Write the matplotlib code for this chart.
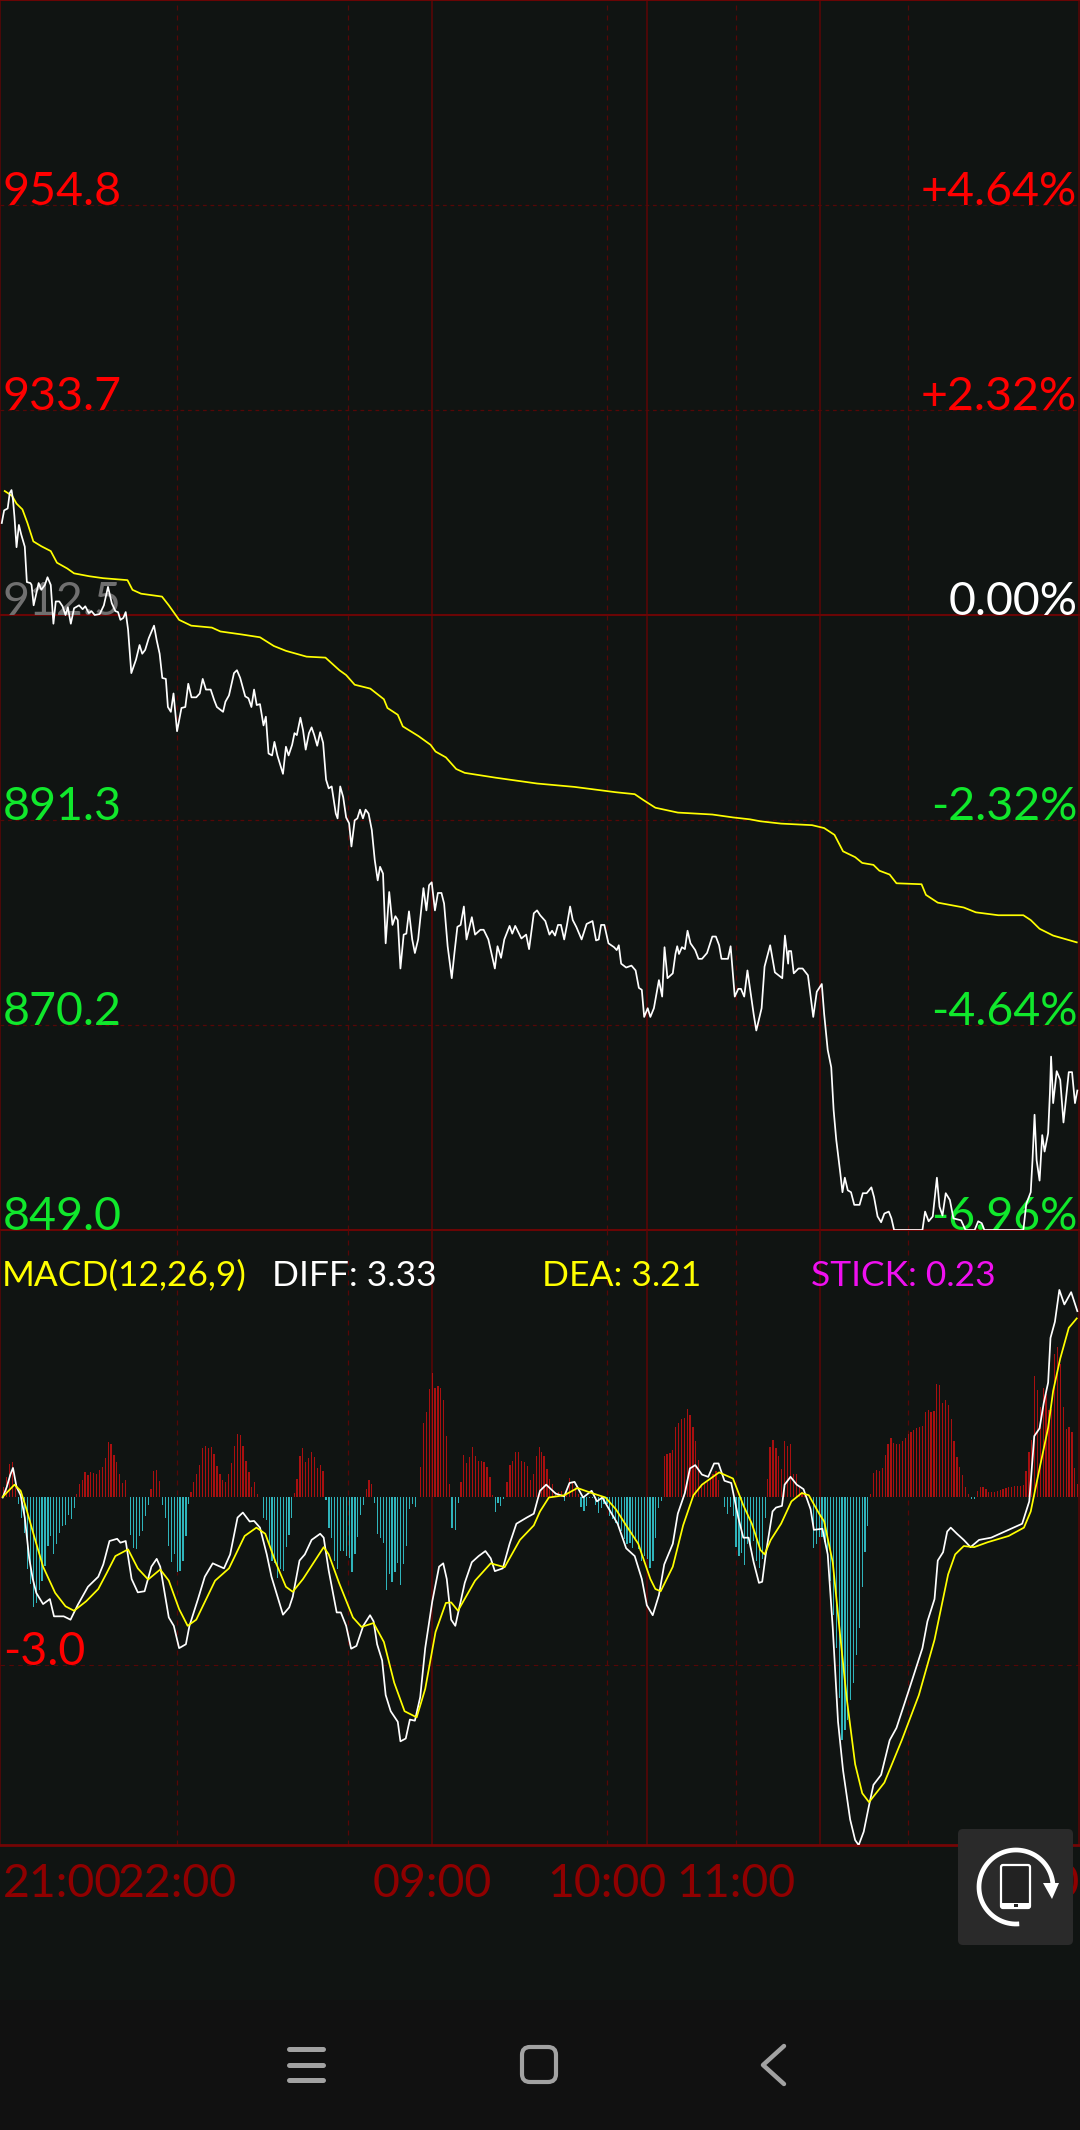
import numpy as np
import matplotlib
matplotlib.use("Agg")
import matplotlib.pyplot as plt
from matplotlib.patches import Rectangle, FancyBboxPatch, Arc, Polygon

plt.rcParams['font.family'] = ['Lato', 'DejaVu Sans']

# ---------- price panel ----------
price_t = [0.6,1.4,2.6,3.3,3.9,4.4,4.9,5.6,6.4,7.2,8.4,9.1,10.3,10.7,11.4,12.3,13.1,14,15.2,16.1,17.2,18.1,18.9,20.1,21.2,22.2,23,24,25.1,26.8,28,28.9,30.1,31,32.1,33.8,35.2,36.6,37.9,39.1,40,40.8,41.8,42.6,43.4,44.5,46.1,47.3,48.2,49.2,50.4,52.2,53.1,54.1,55,56.2,56.9,57.9,58.8,60,61.5,62.8,63.8,64.9,66.5,67.7,68.7,69.8,71.4,72.6,73.5,75.6,76.4,77.6,79.3,80.3,81.4,83.1,84.2,85.2,86.1,87,88.1,89.3,90.1,91,92.2,93,94,95.9,96.9,97.8,99,99.8,100.6,101.8,102.7,103.6,104.7,105.6,106.5,107.5,108.5,109.5,110.5,111.4,112.4,113.8,114.4,115.3,116.3,117.3,118.3,119.1,120.2,121.1,122,123,123.9,124.9,126,127,128,128.8,129.8,130.7,131.9,133,134,134.8,135.7,136.8,137.7,138.6,139.7,140.6,141.7,143.5,144.5,145.4,146.3,147.4,148.4,149.6,150.5,151.7,153.1,154,155,156.1,157.2,158.1,159.9,161,162.8,163.9,165.5,167.7,168.6,169.8,170.9,172.7,173.6,174.6,176.7,178.3,179.3,180.9,182,
183.05,184.8,186.2,187.1,188.1,189.1,190.1,191.2,192.2,193.2,194.1,195.3,197.1,198.8,200.8,202,202.9,203.7,204.8,206.2,208.1,209,209.7,210.5,212.2,214,215.4,216.5,217.5,218.3,219.5,220.4,221.6,223.3,224.4,225.2,226.2,228,228.9,229.5,230.1,231.1,232.1,233,234,235.6,236.7,237.9,239.6,241.4,242.6,243.7,244.5,246.7,247.6,249,250.2,251.1,252.2,253.3,254.5,255.4,256.3,258.1,259.1,261,262.6,265.1,266,267.1,267.3,268.1,269,270.6,272,273.8,275.6,276.8,278.5,279.3,280.5,281.7,282.5,283.4,284.8,285.5,286.3,287.3,288.4,289.5,291.3,292.4,293.7,295.3,296.2,297.4,298.6,299.7,301.2,302.1,303,312.6,313.5,314.7,316.1,317.5,318.4,319.4,320.5,321.9,323.1,325.7,327.2,330.3,331.5,332.7,333.6,346.8,347.8,349.3,349.9,350.6,351.3,352.3,353.2,354,355.2,355.8,356.2,356.9,358.1,359.3,360.4,362.2,363.3,364.3,365.1]
price_v = [922.0,923.3,923.5,925.1,925.4,924.4,922.65,919.5,921.8,920.8,919.55,915.9,915.8,915.6,913.5,914.7,915.8,915.1,915.6,916.4,915.6,911.6,913.9,913.9,913.4,912.5,913.3,911.6,913.2,913.5,913.1,913.4,912.7,912.9,912.5,912.6,913.5,915.4,913.7,912.9,912.8,912.0,912.2,912.8,911.0,906.5,907.9,909.4,908.5,908.9,910.1,911.4,909.9,908.5,906.0,905.9,903.0,902.5,904.4,900.5,902.9,903.0,905.4,904.0,904.0,904.4,905.9,904.8,904.8,903.7,903.0,902.5,903.55,904.2,906.5,906.8,906.0,904.1,903.9,903.0,904.8,903.2,903.3,901.1,902.0,898.2,898.0,899.4,898.0,896.1,898.9,898.0,899.1,900.3,900.1,901.9,900.6,898.6,900.3,900.9,900.1,899.0,900.4,899.3,895.5,894.6,894.8,892.0,891.5,894.8,893.7,891.6,891.0,888.6,891.3,891.5,892.4,891.5,892.4,892.0,890.3,887.2,885.1,886.5,885.8,878.6,883.9,880.5,881.4,881.0,876.0,879.5,879.6,881.9,879.0,877.6,879.0,884.3,882.0,884.6,884.9,882.0,883.8,883.8,882.7,878.3,875.0,877.6,880.3,880.5,882.4,879.0,881.3,879.5,880.0,880.0,879.0,876.0,878.3,877.1,879.0,880.4,879.6,880.4,879.1,879.5,878.0,881.7,882.0,
881.5,880.9,879.5,879.9,879.4,880.5,880.5,879.0,880.6,882.4,881.0,880.3,879.0,880.6,880.9,878.9,879.0,880.5,880.5,878.6,878.2,877.9,878.4,876.5,876.1,876.3,875.8,874.0,873.8,871.0,871.9,871.0,871.9,874.8,873.1,878.2,875.0,875.5,877.5,878.3,877.5,878.2,878.0,879.9,878.6,877.9,877.0,877.0,877.6,879.3,879.3,878.4,877.0,877.0,878.3,873.1,873.9,873.9,873.1,875.8,873.2,871.3,869.6,871.9,876.2,878.4,875.6,875.0,879.4,876.5,877.8,877.8,875.5,876.0,876.0,875.3,871.0,873.6,874.4,871.3,867.6,865.8,861.4,858.3,854.8,852.9,854.4,853.1,852.9,851.6,851.6,852.8,852.8,853.4,852.4,850.4,849.8,850.7,850.9,850.2,849.0,849.0,850.9,849.9,850.4,854.4,851.4,850.5,852.8,852.1,850.2,850.0,849.0,849.0,849.9,849.7,849.0,849.0,851.7,852.9,856.2,860.9,856.2,854.1,858.8,857.1,859.0,863.1,866.9,862.1,865.4,864.5,860.1,865.3,865.3,862.1,863.4]

avg_t = [1.6,4.1,5.6,7.6,9.3,11.3,14,17.2,19.3,22.8,25.1,30.3,35,43.2,44.9,47.8,54.9,57.2,60.7,64.8,71.8,74.7,81.7,88.1,92.8,96.9,103.9,110.3,115,117.3,120.2,125.5,130.1,131.3,134.8,136.5,141.8,145.9,147.6,151.1,154.6,157.5,168,175,182,
194.7,208.7,215.1,218,222.1,229.7,241.4,248.4,254.2,257.7,264.7,275.2,279.3,282.8,285.7,289.8,292.2,296,298,301.5,303.8,312.3,313.8,317.8,326.6,330.7,338.3,346.8,349.3,352.3,356.9,364.9]
avg_v = [925.3,924.8,924,923.4,922,920.1,919.6,919.1,917.9,917.3,916.8,916.5,916.3,916.1,915.1,914.7,914.4,913.5,912,911.4,911.2,910.8,910.5,910.2,909.3,908.8,908.2,908.1,906.8,906.3,905.3,904.9,903.8,902.9,902.2,901,900,899.1,898.4,897.8,896.6,896.2,895.7,895.4,895.1,
894.75,894.2,894,893.4,892.6,892.1,891.9,891.6,891.4,891.2,890.96,890.8,890.5,889.8,888.1,887.5,886.9,886.7,886.1,885.7,884.8,884.7,883.6,882.8,882.3,881.8,881.5,881.5,881,880.1,879.4,878.7]

price_levels = [976.0, 954.8, 933.7, 912.5, 891.3, 870.2, 849.0]
price_labels = ['976.0', '954.8', '933.7', '912.5', '891.3', '870.2', '849.0']
pct_labels = ['+6.96%', '+4.64%', '+2.32%', '0.00%', '-2.32%', '-4.64%', '-6.96%']
label_colors = ['#ff0000', '#ff0000', '#ff0000', '#707070', '#10e82c', '#10e82c', '#10e82c']
pct_colors = ['#ff0000', '#ff0000', '#ff0000', '#ffffff', '#10e82c', '#10e82c', '#10e82c']
solid_levels = [976.0, 912.5, 849.0]

# ---------- MACD panel ----------
diff_t = [0.9,2.3,3.5,4.4,5.6,7,8.4,9.9,11.1,12.3,14.6,16.9,18.3,21.6,23.9,26.3,29.8,33.3,35,37.1,39.7,40.8,42.6,44.6,46.7,49,51.3,53.1,54.3,57.2,58.9,60.7,63,64.2,67.1,69.4,72.1,75.9,78,80.5,82.3,84.6,86.1,88.1,90.4,92,93.9,95.9,98,99.2,101.5,103.3,105.6,108.5,109.7,111.4,114.1,115.5,117.3,119,120.8,123.1,125.4,126.6,127.8,129.5,130.7,132.4,134.8,135.7,137.5,138.9,140.6,142.4,144.1,146.5,148.8,150.2,151.4,152.9,154.3,157.5,159.9,162.2,164.5,166.3,167.7,170.4,172.7,175,178.5,180.9,183,
185.1,188.3,191.2,193,194.7,197.6,200.5,202.3,204.1,206.4,209.3,212.2,215.1,217.5,219.2,221.2,223.3,225.1,228,229.7,232.1,233.8,235.6,237.9,240,242,243.5,245.5,247.8,250.2,251.9,253.7,255.4,257.2,258.3,259.5,261.8,263,265,265.9,267.9,270,272.3,274.7,275.8,278.7,280.5,282.2,284,285.7,288.1,289.8,291,292.7,294.5,296,298.6,301.5,303.8,307.9,312.6,314.3,316.7,317.8,319.6,321,322.2,324.3,326.6,328.9,331.8,335.9,341.8,346.4,348.8,350.5,352.3,353.7,355.2,356,357.5,359,360.7,363,365.1]
diff_v = [0,.19,.41,.53,.19,.04,-.36,-1.09,-1.46,-1.71,-1.91,-1.82,-2.13,-2.13,-2.19,-1.93,-1.6,-1.42,-1.2,-.78,-.74,-.81,-.78,-1.46,-1.7,-1.68,-1.24,-1.1,-1.24,-2.15,-2.3,-2.7,-2.63,-2.3,-1.82,-1.42,-1.18,-1.27,-1.02,-.36,-.27,-.43,-.42,-.54,-1.02,-1.42,-1.75,-2.1,-1.97,-1.78,-1.13,-1.02,-.76,-.65,-.72,-1.31,-2.06,-2.06,-2.3,-2.71,-2.66,-2.3,-2.11,-2.22,-2.63,-2.92,-3.54,-3.83,-4.02,-4.37,-4.32,-3.98,-4,-3.58,-2.7,-1.86,-1.24,-1.18,-1.46,-2.19,-2.3,-1.53,-1.16,-1.05,-.96,-1.09,-1.32,-1.27,-.83,-.47,-.36,-.29,.12,
.23,.07,.02,.26,.28,0,.12,-.07,0,-.21,-.47,-.91,-1.05,-1.46,-1.93,-2.11,-1.75,-1.2,-.83,-.29,.08,.52,.58,.41,.37,.61,.61,.3,.26,-.36,-.72,-.72,-1.16,-1.53,-1.51,-1.02,-.25,-.18,-.15,.23,.37,.23,.15,-.21,-.58,-.56,-1.02,-2.33,-4.02,-4.89,-5.77,-6.14,-6.23,-5.99,-5.52,-5.15,-4.97,-4.35,-4.13,-3.47,-2.7,-2.22,-1.82,-1.13,-.98,-.61,-.54,-.65,-.76,-.89,-.76,-.72,-.58,-.47,-.07,1.1,1.24,1.69,2.06,2.86,3.15,3.72,3.46,3.68,3.34]

dea_t = [0.9,2.9,4.9,7,8.8,11.7,14.6,18.7,22.2,25.1,29.2,33.3,36.2,39.1,43.4,46.7,50.2,54.3,57.2,60.7,63.6,66.5,72.9,77.6,82.9,86.9,89.9,93.4,96.9,99.2,102.7,109.7,111.4,114.9,119.6,122.5,126.6,130.1,133.6,137.1,141.2,144.1,147.6,151.1,152.9,155.2,161,166.3,171,176.2,180.9,183,
186,191.2,195.7,200.5,205.2,208.7,212.2,216.3,220.4,222.1,223.9,228,231.5,235,237.9,240.8,243.7,248.4,251.9,254.8,257.7,259.1,261.2,264.7,268.2,271.7,274.1,277.6,279.3,282.2,284.6,286.9,289.8,292.2,294.5,299.7,305.6,311.4,316.7,321.3,323.7,326.6,330.1,334.8,341.8,347,349.3,352.3,355.2,356.9,359.3,362.2,364.9]
dea_v = [.01,.12,.23,.12,-.18,-.72,-1.24,-1.71,-1.95,-2.03,-1.86,-1.64,-1.35,-1.05,-.93,-1.27,-1.47,-1.29,-1.49,-2,-2.3,-2.19,-1.49,-1.27,-.69,-.54,-.65,-1.16,-1.6,-1.69,-1.46,-.89,-1.02,-1.53,-2.15,-2.32,-2.25,-2.59,-3.32,-3.83,-3.94,-3.43,-2.41,-1.89,-1.88,-2.03,-1.49,-1.18,-1.25,-.76,-.5,-.25,
0,.04,.17,.08,0,-.21,-.5,-.83,-1.46,-1.64,-1.68,-1.24,-.5,.04,.23,.34,.45,.34,-.14,-.47,-.94,-1.02,-.76,-.47,-.07,.08,.04,-.29,-.43,-1.16,-2.41,-3.58,-4.78,-5.3,-5.46,-5.11,-4.35,-3.54,-2.55,-1.38,-1.02,-.87,-.89,-.8,-.69,-.54,-.25,.52,1.25,1.91,2.49,3.04,3.21]

# stick bars: each run is a time span and the values read in it
stick_starts = [1.2,6.3,25.9,44.3,51.2,55.1,64.7,89.3,99.7,110.5,124.1,127,141.6,153.2,156.2,167.8,171.8,183.4,191.2,192.1,196.9,225.1,245.5,260,275.7,295.1,329.2,331.2]
stick_ends = [5.3,25.2,42.5,50.4,54,64,87.3,98.9,109.5,123.2,126,140.7,152.3,155.3,167,170.7,182.8,190.2,191.2,196,224.2,243.6,259.3,272.8,294.1,328.2,330.2,365.2]
stick_runs = [
 [.18,.36,.6,.64,.21],
 [-.12,-.36,-.63,-1.29,-1.55,-1.96,-1.89,-1.65,-1.5,-1.23,-.87,-.69,-1.02,-.83,-.63,-.51,-.5,-.31,-.39,-.18],
 [.07,.24,.31,.45,.41,.46,.44,.43,.49,.55,.71,.99,.95,.77,.63,.42,.26,.31],
 [-.67,-.9,-.93,-.69,-.6,-.33,-.13],
 [.15,.48,.49,.3],
 [-.13,-.37,-.87,-1.16,-1.01,-1.33,-1.31,-1.14,-.69,-.11],
 [.1,.27,.42,.59,.89,.93,.89,.91,.78,.57,.42,.31,.27,.42,.61,.93,1.14,1.12,.93,.66,.45,.19,.28,.07],
 [-.37,-.41,-.84,-1.14,-1.17,-1.44,-1.29,-1.32,-.88,-.68,-.36],
 [.08,.34,.75,.89,.63,.71,.81,.72,.53,.58,.48],
 [-.05,-.54,-.73,-1.14,-1.29,-.96,-.95,-1.05,-1.08,-1.33,-1.01,-.71,-.31,-.13],
 [.16,.31,.24],
 [-.1,-.65,-.72,-.81,-1.66,-1.38,-1.51,-1.33,-1.17,-1.56,-1.2,-.87,-.21,-.11,-.17],
 [.01,.54,1.33,1.53,1.95,2.23,1.97,1.99,1.97,1.75,1.11,.25],
 [-.55,-.59,-.09],
 [.27,.76,.62,.72,.91,.75,.65,.65,.63,.54,.36,.05],
 [-.26,-.1,-.15,-.03],
 [.27,.59,.65,.81,.81,.66,.63,.57,.32,.42,.75,.9],
 [.82,.75,.51,.33,.24,.09,.09,.12],
 [-.06],
 [.11,.35,.27,.18,.07],
 [-.17,-.24,-.15,-.01,-.01,-.13,-.27,-.18,-.11,-.12,-.33,-.39,-.45,-.49,-.6,-.75,-.84,-.81,-.9,-.78,-.93,-1.14,-1.05,-1.11,-1.26,-1.14,-.72,-.19,-.07],
 [.75,.78,.8,.86,1.26,1.33,1.41,1.42,1.58,1.48,1.27,1.02,.67,.24,.24,.27,.33,.42,.48,.31],
 [-.17,-.29,-.17,-.33,-.89,-1.05,-.99,-1.21,-.84,-.9,-.78,-1.14,-1.26,-1.11,-.36],
 [.33,.9,1.03,.89,.75,.51,1.02,.93,.95,.42,.42,.21,.1,.05],
 [-.9,-.84,-.7,-.7,-.8,-1.0,-1.5,-2.1,-2.7,-3.6,-4.35,-4.17,-3.99,-3.63,-3.33,-2.82,-2.33,-1.6,-.98,-.51],
 [.06,.44,.49,.48,.53,.76,.96,1.07,.97,.95,.96,1.01,1.07,1.14,1.18,1.21,1.25,1.26,1.29,1.54,1.56,1.53,1.55,2.04,2.02,1.7,1.75,1.66,1.41,1.02,.73,.54,.4,.19,.06],
 [-.02,-.03],
 [.11,.19,.19,.15,.1,.1,.1,.12,.13,.15,.17,.18,.19,.2,.2,.21,.22,.48,.81,1.03,2.18,1.93,1.63,1.97,1.86,1.56,1.59,2.58,2.7,2.4,1.63,1.23,1.26,1.17,.53,.24],
]

# vertical grid (minutes since 21:00)
solid_minutes = [0, 146.4, 219.3, 277.8, 365.8]
dashed_minutes = [60, 118.1, 205.8, 249.3, 307.8]
time_labels = ['21:00', '22:00', '09:00', '10:00', '11:00', '15:00']
time_ticks = [0, 60, 146.4, 205.8, 249.3, 366]
time_align = ['left', 'center', 'center', 'center', 'center', 'right']

header_texts = ['MACD(12,26,9)', 'DIFF: 3.33', 'DEA: 3.21', 'STICK: 0.23']
header_colors = ['#ffff00', '#ffffff', '#ffff00', '#f010f0']
header_x = [2/1080, 272/1080, 542/1080, 811/1080]

BG = '#101412'
GRID = '#5e0505'
DGRID = '#560707'
W, H = 1080, 2130
FS = 33.5
fig = plt.figure(figsize=(W/100, H/100), dpi=100, facecolor=BG)

def panel(top, bottom):
    return fig.add_axes([0, 1-bottom/H, 1, (bottom-top)/H], facecolor='none')

ax = panel(0, 1230)
ax.set_xlim(0, 366); ax.set_ylim(849, 976)
m = panel(1230, 1845)
m.set_xlim(0, 366); m.set_ylim(-6.228, 4.794)

for a in (ax, m):
    a.set_xticks([]); a.set_yticks([])
    for s in a.spines.values():
        s.set_visible(False)
    for x in solid_minutes:
        a.axvline(x, color=GRID, lw=1.1, zorder=1)
    for x in dashed_minutes:
        a.axvline(x, color=DGRID, lw=0.9, ls=(0, (4, 4)), zorder=1)

for lv in price_levels:
    if lv in solid_levels:
        ax.axhline(lv, color='#6a0505', lw=1.5, zorder=1, clip_on=False)
    else:
        ax.axhline(lv, color=DGRID, lw=0.9, ls=(0, (3, 3)), zorder=1)
m.axhline(-3.0, color=DGRID, lw=0.8, ls=(0, (4, 4)), zorder=1)
m.axhline(-6.228, color='#740505', lw=2.0, zorder=1, clip_on=False)

for lv, a_t, pc, c1, c2 in zip(price_levels, price_labels, pct_labels, label_colors, pct_colors):
    ax.annotate(a_t, (0, lv), xytext=(2, 0), textcoords='offset points', color=c1,
                fontsize=FS, va='baseline', ha='left', zorder=2, annotation_clip=False)
    ax.annotate(pc, (366, lv), xytext=(-2, 0), textcoords='offset points', color=c2,
                fontsize=FS, va='baseline', ha='right', zorder=2, annotation_clip=False)

ax.plot(avg_t, avg_v, color='#ffff00', lw=1.25, zorder=4)
ax.plot(price_t, price_v, color='#ffffff', lw=1.25, zorder=5)

for s, e, vals in zip(stick_starts, stick_ends, stick_runs):
    ts = np.linspace(s, e, len(vals))
    vals = np.array(vals)
    m.bar(ts, vals, width=0.42, color=np.where(vals > 0, '#a91010', '#2fb4bb').tolist(), zorder=2, linewidth=0)
m.plot(diff_t, diff_v, color='#ffffff', lw=1.25, zorder=4)
m.plot(dea_t, dea_v, color='#ffff00', lw=1.25, zorder=5)

m.annotate('-3.0', (0, -3.0), xytext=(2, 0), textcoords='offset points', color='#ff0000',
           fontsize=FS, va='baseline', ha='left', zorder=2)
for t, c, x in zip(header_texts, header_colors, header_x):
    fig.text(x, 1-1286/H, t, color=c, fontsize=25.5, va='baseline', ha='left', zorder=3)

for lab, tk, al in zip(time_labels, time_ticks, time_align):
    off = 2 if al == 'left' else 0
    m.annotate(lab, (tk, -6.228), xycoords='data', xytext=(off, -(1897-1845)*0.72), textcoords='offset points',
               color='#8f0000', fontsize=FS, va='baseline', ha=al, zorder=2, annotation_clip=False)

# device chrome overlay, in screen pixels
ov = fig.add_axes([0, 0, 1, 1], facecolor='none', zorder=10)
ov.set_xlim(0, W); ov.set_ylim(H, 0); ov.axis('off')
ov.add_patch(Rectangle((0, 2000), W, 130, color='#111111', lw=0))
ov.add_patch(FancyBboxPatch((960, 1831), 111, 112, boxstyle='round,pad=2,rounding_size=5', fc='#2a2a2a', ec='none'))
ov.add_patch(Arc((1016, 1887), 76, 76, theta1=-5, theta2=270-180+180-0, color='white', lw=0))
th = np.radians(np.linspace(90, -270+180+360-90+180, 2))
arc_t = np.radians(np.linspace(-5, 180 + 95, 80))
# arc runs from the arrow over the top, down the left side to the bottom
ov.plot(1016 + 37*np.cos(-arc_t), 1887 + 37*np.sin(-arc_t), color='white', lw=3.4, solid_capstyle='butt')
ov.add_patch(Polygon([(1043, 1883), (1059, 1883), (1052, 1899)], fc='white', ec='none'))
ov.add_patch(FancyBboxPatch((1002, 1866), 27, 41, boxstyle='round,pad=1,rounding_size=2', fc='#222222', ec='white', lw=1.6))
ov.add_patch(Rectangle((1002, 1903), 27, 6, fc='white', ec='none'))
ov.add_patch(Rectangle((1014, 1904), 4, 3, fc='#222222', ec='none'))

for y in (2049, 2065, 2080):
    ov.plot([289, 323], [y, y], color='#a2a2a2', lw=3.6, solid_capstyle='round')
ov.add_patch(FancyBboxPatch((522, 2047), 34, 35, boxstyle='round,pad=0,rounding_size=8', fc='none', ec='#a2a2a2', lw=3.0))
ov.plot([784, 763, 784], [2046, 2065, 2084], color='#a2a2a2', lw=3.2, solid_capstyle='round', solid_joinstyle='round')

fig.savefig('out.png', dpi=100, facecolor=BG)
